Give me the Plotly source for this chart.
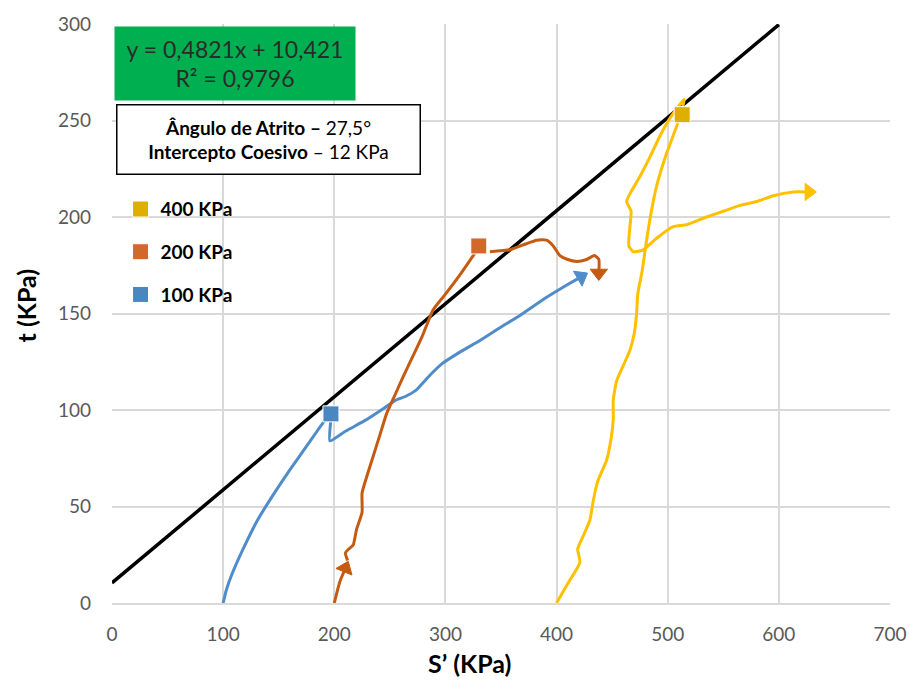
import plotly.graph_objects as go

# ---- data ----
fit_s = [0, 600]
fit_slope = 0.4821
fit_intercept = 10.421

s_100 = [100, 103, 108, 118, 131, 145, 160, 176, 192, 197, 196, 210, 229, 245, 255, 264, 273,
         286, 297, 313, 331, 350, 367, 390, 410, 422]
t_100 = [0, 7, 15, 28, 43, 56, 69, 82, 95, 98, 84, 89, 95, 101, 105, 107, 110,
         118, 124, 130, 136, 143, 149, 158, 165, 169]

s_200a = [200, 205, 210]
t_200a = [0, 11, 18]
s_200 = [212, 210, 213, 217, 220, 225, 225, 230, 235, 241, 247, 254, 261, 270, 279, 289, 300, 313, 325, 330]
t_200 = [22, 26, 28, 30, 38, 47, 57, 67, 76, 87, 98, 107, 116, 127, 138, 152, 160, 170, 180, 184]
s_200b = [340, 358, 372, 382, 391, 397, 403, 410, 418, 427, 434, 438, 438]
t_200b = [182, 183, 186, 188, 188, 185, 180, 178, 177, 178, 180, 178, 171]

s_400 = [400, 410, 421, 419, 425, 430, 433, 437, 445, 449, 451, 451, 454, 460, 466, 470, 472, 473,
         477, 481, 485, 490, 499, 508, 512, 515, 503, 493, 484, 475, 466, 463, 467, 466, 465, 469,
         478, 490, 505, 517, 535, 550, 565, 580, 595, 613, 627]
t_400 = [0, 10, 21, 28, 36, 43, 53, 63, 74, 85, 95, 105, 115, 123, 131, 140, 150, 160,
         172, 188, 202, 216, 233, 247, 254, 261, 252, 242, 231, 221, 212, 208, 203, 195, 185, 182,
         183, 189, 195, 196, 200, 203, 206, 208, 211, 213, 213]

peak_labels = ["400 KPa", "200 KPa", "100 KPa"]
peak_s = [513, 330, 197]
peak_t = [253, 185, 98]

x_ticks = [0, 100, 200, 300, 400, 500, 600, 700]
y_ticks = [0, 50, 100, 150, 200, 250, 300]

# ---- styles ----
c400, c200, c100 = "#FFC000", "#C55A11", "#4F8CC9"
m400, m200, m100 = "#DEAE00", "#D2692B", "#4A86C0"
LW = 3

fig = go.Figure()

fit_t = [fit_slope * s + fit_intercept for s in fit_s]
fig.add_trace(go.Scatter(x=fit_s, y=fit_t, mode="lines", line=dict(color="black", width=3.5),
                         showlegend=False, hoverinfo="skip"))


def path(xs, ys, color, arrow=True, arrow_size=15):
    fig.add_trace(go.Scatter(x=xs, y=ys, mode="lines", line=dict(color=color, width=LW, shape="spline", smoothing=0.5),
                             showlegend=False, hoverinfo="skip"))
    if arrow:
        fig.add_trace(go.Scatter(x=xs[-2:], y=ys[-2:], mode="markers",
                                 marker=dict(symbol="triangle-up", size=[0, arrow_size], color=color,
                                             opacity=1, angleref="previous",
                                             line=dict(width=1, color=color)),
                                 showlegend=False, hoverinfo="skip"))


path(s_100, t_100, c100)
path(s_200a, t_200a, c200)
path(s_200, t_200, c200, arrow=False)
path(s_200b, t_200b, c200)
path(s_400, t_400, c400)

for lab, s, t, mc in zip(peak_labels, peak_s, peak_t, [m400, m200, m100]):
    fig.add_trace(go.Scatter(x=[s], y=[t], mode="markers", name=lab, legendgroup=lab,
                             marker=dict(symbol="square", size=16, color=mc,
                                         line=dict(color="white", width=1))))

fig.add_annotation(xref="paper", yref="paper", x=0.158, y=0.932, xanchor="center", yanchor="middle",
                   text="y = 0,4821x + 10,421<br>R² = 0,9796", showarrow=False,
                   font=dict(family="Lato", size=23, color="#2b2b2b"),
                   bgcolor="#00B050", width=240, height=73, borderpad=0, align="center")
fig.add_annotation(xref="paper", yref="paper", x=0.201, y=0.801, xanchor="center", yanchor="middle",
                   text="<b>Ângulo de Atrito –</b> 27,5°<br><b>Intercepto Coesivo</b> – 12 KPa",
                   showarrow=False, font=dict(family="Lato", size=19, color="black"),
                   bgcolor="white", bordercolor="black", borderwidth=1.5,
                   width=300, height=66, borderpad=1, align="center")

# axis titles
fig.add_annotation(xref="paper", yref="paper", x=(469.5 - 112) / 778, y=(603 - 663) / 579,
                   xanchor="center", yanchor="middle", text="<b>S’ (KPa)</b>", showarrow=False,
                   font=dict(family="Lato", size=25, color="black"))
fig.add_annotation(xref="paper", yref="paper", x=(25 - 112) / 778, y=(603 - 305.5) / 579,
                   xanchor="center", yanchor="middle", text="<b>t (KPa)</b>", showarrow=False,
                   textangle=-90, font=dict(family="Lato", size=25, color="black"))

fig.update_layout(
    width=909, height=684,
    margin=dict(l=112, r=19, t=24, b=81),
    paper_bgcolor="white", plot_bgcolor="white",
    font=dict(family="Lato", color="#595959"),
    legend=dict(x=0.011, y=0.713, xanchor="left", yanchor="top", bgcolor="rgba(0,0,0,0)",
                font=dict(family="Lato", size=19, color="black", weight="bold"),
                tracegroupgap=15, itemwidth=30),
    xaxis=dict(range=[0, 700], tickvals=x_ticks, showgrid=True, gridcolor="#D9D9D9", gridwidth=1.5,
               zeroline=False, showline=True, linecolor="#D9D9D9", linewidth=1.5, automargin=False,
               tickfont=dict(size=19, color="#595959"), ticks="", ticklabelstandoff=13),
    yaxis=dict(range=[0, 300], tickvals=y_ticks, showgrid=True, gridcolor="#D9D9D9", gridwidth=1.5,
               zeroline=False, showline=False, automargin=False,
               tickfont=dict(size=19, color="#595959"), ticks="", ticklabelstandoff=20),
)

fig.write_html("out.html")
